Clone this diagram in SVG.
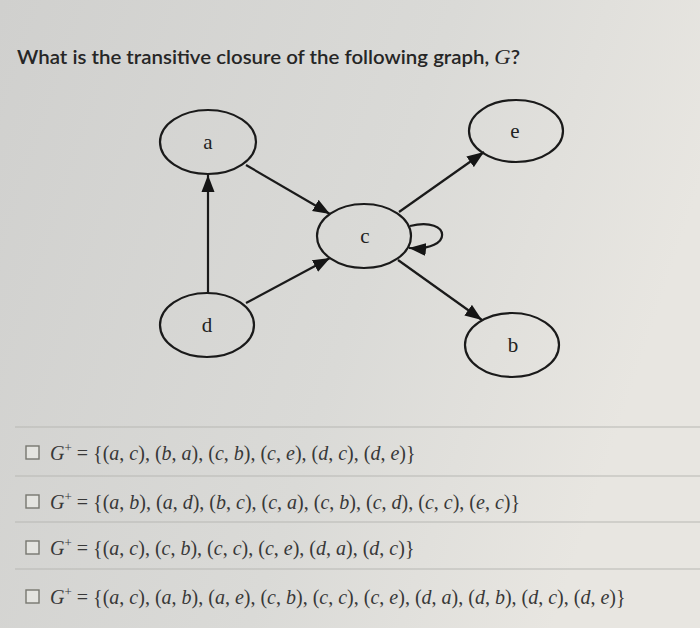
<svg xmlns="http://www.w3.org/2000/svg" width="700" height="628" viewBox="0 0 700 628">
<defs>
<linearGradient id="bg" x1="0" y1="0" x2="1" y2="0.3">
<stop offset="0" stop-color="#d0d0ce"/>
<stop offset="0.6" stop-color="#dadad7"/>
<stop offset="1" stop-color="#e8e6e1"/>
</linearGradient>
<marker id="arr" markerUnits="userSpaceOnUse" markerWidth="18" markerHeight="14" refX="17" refY="7" orient="auto">
<path d="M0,0.5 L17,7 L0,13.5 z" fill="#151515"/>
</marker>
<style>
.node ellipse{fill:none;stroke:#1a1a1a;stroke-width:2.2}
.node text{font-family:"Liberation Serif",serif;font-size:21px;fill:#222;text-anchor:middle}
.edge{fill:none;stroke:#1a1a1a;stroke-width:2.2;marker-end:url(#arr)}
.sep{stroke:#b7b7b4;stroke-width:1.2}
.box{fill:#e4e4e0;stroke:#77776f;stroke-width:1.4}
.opt{font-family:"Liberation Serif",serif;font-size:20px;fill:#383838}
.i{font-style:italic}
.title{font-family:Lato,"Liberation Sans",sans-serif;font-size:19px;font-weight:600;fill:#262626}
</style>
</defs>
<rect width="700" height="628" fill="url(#bg)"/>
<text class="title" x="17" y="64" textLength="503" lengthAdjust="spacingAndGlyphs">What is the transitive closure of the following graph, <tspan font-family="'Liberation Serif',serif" font-style="italic" font-weight="normal" font-size="21px">G</tspan>?</text>

<g id="connectors">
<line class="edge" x1="208" y1="293" x2="208" y2="175"/>
<line class="edge" x1="246" y1="165" x2="330" y2="214"/>
<line class="edge" x1="246" y1="303" x2="330" y2="258"/>
<line class="edge" x1="399" y1="212" x2="484" y2="152"/>
<line class="edge" x1="398" y1="260" x2="482" y2="320"/>
<path class="edge" d="M410,226 C452,216 454,252 409,248"/>
</g>

<g id="node-a" class="node"><ellipse cx="208" cy="142" rx="48" ry="32"/><text x="208" y="149">a</text></g>
<g id="node-e" class="node"><ellipse cx="516" cy="131" rx="47" ry="31"/><text x="515" y="138">e</text></g>
<g id="node-c" class="node"><ellipse cx="364" cy="236" rx="47" ry="32"/><text x="365" y="243">c</text></g>
<g id="node-d" class="node"><ellipse cx="207" cy="325" rx="47" ry="32"/><text x="207" y="332">d</text></g>
<g id="node-b" class="node"><ellipse cx="512" cy="345" rx="47" ry="32"/><text x="513" y="352">b</text></g>

<g id="options">
<line class="sep" x1="15" y1="427" x2="700" y2="427"/>
<line class="sep" x1="15" y1="476" x2="700" y2="476"/>
<line class="sep" x1="15" y1="522" x2="700" y2="522"/>
<line class="sep" x1="15" y1="569" x2="700" y2="569"/>

<rect class="box" x="26" y="446" width="13" height="13"/>
<text class="opt" x="50" y="460"><tspan class="i">G</tspan><tspan font-size="13px" dy="-8">+</tspan><tspan dy="8"> = {(</tspan><tspan class="i">a</tspan>, <tspan class="i">c</tspan>), (<tspan class="i">b</tspan>, <tspan class="i">a</tspan>), (<tspan class="i">c</tspan>, <tspan class="i">b</tspan>), (<tspan class="i">c</tspan>, <tspan class="i">e</tspan>), (<tspan class="i">d</tspan>, <tspan class="i">c</tspan>), (<tspan class="i">d</tspan>, <tspan class="i">e</tspan>)}</text>

<rect class="box" x="26" y="495" width="13" height="13"/>
<text class="opt" x="50" y="509"><tspan class="i">G</tspan><tspan font-size="13px" dy="-8">+</tspan><tspan dy="8"> = {(</tspan><tspan class="i">a</tspan>, <tspan class="i">b</tspan>), (<tspan class="i">a</tspan>, <tspan class="i">d</tspan>), (<tspan class="i">b</tspan>, <tspan class="i">c</tspan>), (<tspan class="i">c</tspan>, <tspan class="i">a</tspan>), (<tspan class="i">c</tspan>, <tspan class="i">b</tspan>), (<tspan class="i">c</tspan>, <tspan class="i">d</tspan>), (<tspan class="i">c</tspan>, <tspan class="i">c</tspan>), (<tspan class="i">e</tspan>, <tspan class="i">c</tspan>)}</text>

<rect class="box" x="26" y="541" width="13" height="13"/>
<text class="opt" x="50" y="555"><tspan class="i">G</tspan><tspan font-size="13px" dy="-8">+</tspan><tspan dy="8"> = {(</tspan><tspan class="i">a</tspan>, <tspan class="i">c</tspan>), (<tspan class="i">c</tspan>, <tspan class="i">b</tspan>), (<tspan class="i">c</tspan>, <tspan class="i">c</tspan>), (<tspan class="i">c</tspan>, <tspan class="i">e</tspan>), (<tspan class="i">d</tspan>, <tspan class="i">a</tspan>), (<tspan class="i">d</tspan>, <tspan class="i">c</tspan>)}</text>

<rect class="box" x="26" y="590" width="13" height="13"/>
<text class="opt" x="50" y="604"><tspan class="i">G</tspan><tspan font-size="13px" dy="-8">+</tspan><tspan dy="8"> = {(</tspan><tspan class="i">a</tspan>, <tspan class="i">c</tspan>), (<tspan class="i">a</tspan>, <tspan class="i">b</tspan>), (<tspan class="i">a</tspan>, <tspan class="i">e</tspan>), (<tspan class="i">c</tspan>, <tspan class="i">b</tspan>), (<tspan class="i">c</tspan>, <tspan class="i">c</tspan>), (<tspan class="i">c</tspan>, <tspan class="i">e</tspan>), (<tspan class="i">d</tspan>, <tspan class="i">a</tspan>), (<tspan class="i">d</tspan>, <tspan class="i">b</tspan>), (<tspan class="i">d</tspan>, <tspan class="i">c</tspan>), (<tspan class="i">d</tspan>, <tspan class="i">e</tspan>)}</text>
</g>
</svg>
